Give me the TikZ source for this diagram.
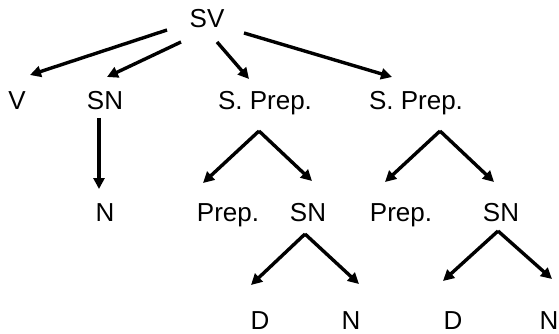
\documentclass[tikz,border=0pt]{standalone}
\usepackage{fontspec}
\setmainfont{Liberation Sans}
\usetikzlibrary{arrows.meta}
\begin{document}
\begin{tikzpicture}[x=1pt,y=-1pt,
  lab/.style={anchor=base,inner sep=0pt,font=\fontsize{26}{28}\selectfont},
  arr/.style={line width=3.4pt,-{Triangle[length=11pt,width=11pt]}},
  ln/.style={line width=3.4pt}]
\useasboundingbox (0,0) rectangle (559,334);
% nodes
\node[lab] (sv) at (207,28) {SV};
\node[lab] (v) at (17,110) {V};
\node[lab] (sn1) at (105,110) {SN};
\node[lab] (sp1) at (265,110) {S. Prep.};
\node[lab] (sp2) at (416,110) {S. Prep.};
\node[lab] (n1) at (105,221) {N};
\node[lab] (pr1) at (228,221) {Prep.};
\node[lab] (sn2) at (308,221) {SN};
\node[lab] (pr2) at (401,221) {Prep.};
\node[lab] (sn3) at (501,221) {SN};
\node[lab] (d1) at (260,329) {D};
\node[lab] (n2) at (351,329) {N};
\node[lab] (d2) at (453,329) {D};
\node[lab] (n3) at (549,329) {N};
% connector ends
\coordinate (svA) at (167,30);  \coordinate (vT) at (30,75);
\coordinate (svB) at (181,42);  \coordinate (sn1T) at (107,77);
\coordinate (svC) at (217,42);  \coordinate (sp1T) at (249,79);
\coordinate (svD) at (244,33);  \coordinate (sp2T) at (392,77);
\coordinate (sn1B) at (99,118); \coordinate (n1T) at (99,189);
\coordinate (sp1B) at (259,131); \coordinate (pr1T) at (203,183); \coordinate (sn2T) at (312,181);
\coordinate (sp2B) at (440,131); \coordinate (pr2T) at (385,182); \coordinate (sn3T) at (494,182);
\coordinate (sn2B) at (305,234); \coordinate (d1T) at (251,285); \coordinate (n2T) at (359,284);
\coordinate (sn3B) at (498,231); \coordinate (d2T) at (443,281); \coordinate (n3T) at (552,279);
% connectors
\draw[arr] (svA) -- (vT);
\draw[arr] (svB) -- (sn1T);
\draw[arr] (svC) -- (sp1T);
\draw[arr] (svD) -- (sp2T);
\draw[arr] (sn1B) -- (n1T);
\draw[arr] (sp1B) -- (pr1T);
\draw[arr] (sp1B) -- (sn2T);
\draw[arr] (sp2B) -- (pr2T);
\draw[arr] (sp2B) -- (sn3T);
\draw[arr] (sn2B) -- (d1T);
\draw[arr] (sn2B) -- (n2T);
\draw[arr] (sn3B) -- (d2T);
\draw[arr] (sn3B) -- (n3T);
\end{tikzpicture}
\end{document}
